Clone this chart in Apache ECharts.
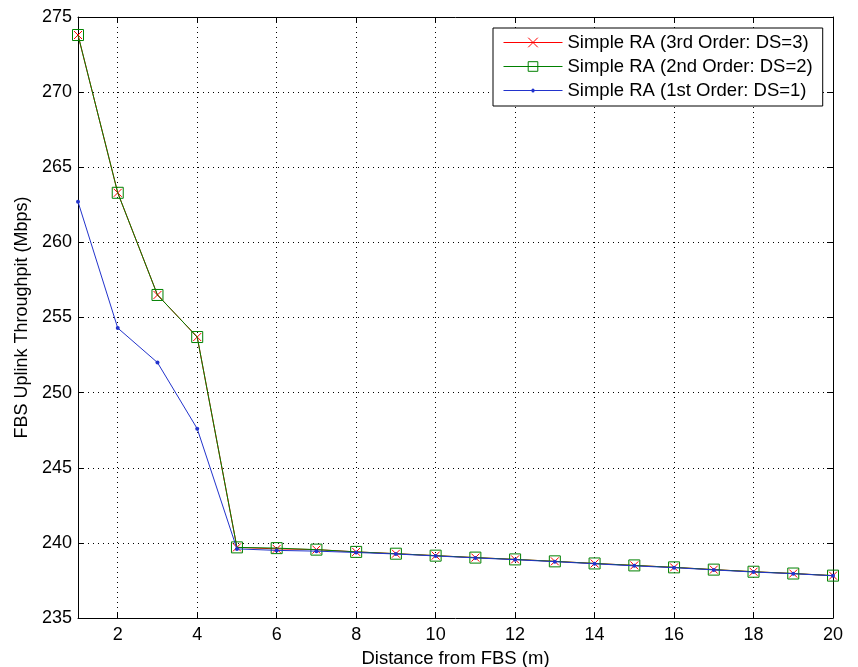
<!DOCTYPE html>
<html>
<head>
<meta charset="utf-8">
<script src="https://cdn.jsdelivr.net/npm/echarts@6/dist/echarts.min.js"></script>
<style>
html,body{margin:0;padding:0;background:#fff;}
#chart{width:858px;height:667px;}
</style>
</head>
<body>
<div id="chart"></div>
<script>
var distance = ['1','2','3','4','5','6','7','8','9','10','11','12','13','14','15','16','17','18','19','20'];
// 3rd order DS=3
var ds3 = [273.8, 263.3, 256.5, 253.7, 239.7, 239.6, 239.55, 239.4, 239.28, 239.15, 239.02, 238.9, 238.77, 238.63, 238.5, 238.37, 238.22, 238.08, 237.96, 237.82];
// 2nd order DS=2
var ds2 = [273.8, 263.3, 256.5, 253.7, 239.7, 239.65, 239.55, 239.4, 239.28, 239.15, 239.02, 238.9, 238.77, 238.63, 238.5, 238.37, 238.22, 238.08, 237.96, 237.82];
// 1st order DS=1
var ds1 = [262.7, 254.3, 252.0, 247.6, 239.6, 239.5, 239.45, 239.36, 239.26, 239.13, 239.0, 238.88, 238.75, 238.61, 238.47, 238.35, 238.2, 238.06, 237.95, 237.81];

var names = ['Simple RA (3rd Order: DS=3)', 'Simple RA (2nd Order: DS=2)', 'Simple RA (1st Order: DS=1)'];

var evenIdx = function (index) { return index % 2 === 1; };
var fontName = 'Liberation Sans';
// legend icon for the blue series: thin line with a small dot
var dotLineIcon = 'path://M0,1.5h27.5a1.5,1.5 0 1,1 3,0h27.5v1h-27.5a1.5,1.5 0 1,1 -3,0h-27.5z';

var chart = echarts.init(document.getElementById('chart'));
var option = {
    animation: false,
    backgroundColor: '#fff',
    textStyle: { fontFamily: fontName },
    grid: { left: 78, right: 25, top: 17, bottom: 49, containLabel: false, outerBoundsMode: 'none' },
    legend: {
        orient: 'vertical',
        left: 493,
        top: 28,
        padding: [5, 10, 6, 10],
        backgroundColor: '#fff',
        borderColor: '#000',
        borderWidth: 1,
        borderRadius: 0,
        itemWidth: 59,
        itemHeight: 12,
        itemGap: 5,
        lineStyle: { width: 1 },
        itemStyle: { borderWidth: 1 },
        textStyle: { fontSize: 18.5, color: '#000', fontFamily: fontName },
        data: [
            { name: names[0] },
            { name: names[1] },
            { name: names[2], icon: dotLineIcon, itemStyle: { borderWidth: 0 } }
        ]
    },
    xAxis: [{
        type: 'category',
        data: distance,
        boundaryGap: false,
        name: 'Distance from FBS (m)',
        nameLocation: 'middle',
        nameGap: 31,
        nameTextStyle: { fontSize: 18.5, color: '#000' },
        axisLine: { lineStyle: { color: '#000', width: 1 } },
        axisTick: { inside: true, length: 6, interval: evenIdx, lineStyle: { color: '#000' } },
        axisLabel: { interval: evenIdx, fontSize: 18, color: '#000', margin: 8 },
        splitLine: { show: true, interval: evenIdx, lineStyle: { color: '#000', type: [1, 4], width: 1 } }
    }, {
        type: 'category',
        data: distance,
        boundaryGap: false,
        position: 'top',
        axisLine: { lineStyle: { color: '#000', width: 1 } },
        axisTick: { inside: true, length: 6, interval: evenIdx, lineStyle: { color: '#000' } },
        axisLabel: { show: false },
        splitLine: { show: false }
    }],
    yAxis: [{
        type: 'value',
        min: 235,
        max: 275,
        interval: 5,
        name: 'FBS Uplink Throughpit (Mbps)',
        nameLocation: 'middle',
        nameGap: 46,
        nameTextStyle: { fontSize: 18, color: '#000' },
        axisLine: { show: true, lineStyle: { color: '#000', width: 1 } },
        axisTick: { show: true, inside: true, length: 6, lineStyle: { color: '#000' } },
        axisLabel: { fontSize: 18, color: '#000', margin: 6 },
        splitLine: { show: true, lineStyle: { color: '#000', type: [1, 4], width: 1 } }
    }, {
        type: 'value',
        min: 235,
        max: 275,
        interval: 5,
        position: 'right',
        axisLine: { show: true, lineStyle: { color: '#000', width: 1 } },
        axisTick: { show: true, inside: true, length: 6, lineStyle: { color: '#000' } },
        axisLabel: { show: false },
        splitLine: { show: false }
    }],
    series: [
        {
            name: names[0],
            type: 'line',
            data: ds3,
            z: 3,
            symbol: 'path://M0,0L10,10M10,0L0,10',
            symbolSize: 8,
            showAllSymbol: true,
            lineStyle: { color: '#ff0000', width: 1 },
            itemStyle: { color: 'rgba(0,0,0,0)', borderColor: '#ff0000', borderWidth: 1 }
        },
        {
            name: names[1],
            type: 'line',
            data: ds2,
            z: 4,
            symbol: 'rect',
            symbolSize: 11,
            showAllSymbol: true,
            lineStyle: { color: '#008000', width: 1 },
            itemStyle: { color: 'rgba(0,0,0,0)', borderColor: '#008000', borderWidth: 1 }
        },
        {
            name: names[2],
            type: 'line',
            data: ds1,
            z: 5,
            symbol: 'circle',
            symbolSize: 4,
            showAllSymbol: true,
            lineStyle: { color: '#2233cc', width: 1 },
            itemStyle: { color: '#2233cc', borderWidth: 0 }
        }
    ]
};
chart.setOption(option);
</script>
</body>
</html>
